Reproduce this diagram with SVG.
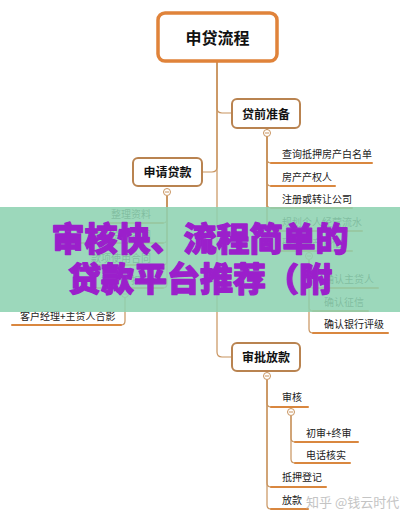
<svg xmlns="http://www.w3.org/2000/svg" width="400" height="521" viewBox="0 0 400 521">
<style>
.conn{fill:none;stroke:#C8935E;stroke-width:1.2}
.ul{stroke:#D9873F;stroke-width:2;stroke-linecap:round}
.box{fill:#fff;stroke:#B98350;stroke-width:2}
.bt{font-family:"Noto Sans CJK SC","Noto Sans",sans-serif;font-weight:700;font-size:12px;fill:#111;text-anchor:middle}
.it{font-family:"Noto Sans CJK SC","Noto Sans",sans-serif;font-size:10px;fill:#222}
.ie{text-anchor:end}
.tog{fill:#fff;stroke:#C8935E;stroke-width:1}
.ban{font-family:"Noto Sans CJK SC",sans-serif;font-weight:900;font-size:33px;fill:#9B1FCB;stroke:#9B1FCB;stroke-width:1.3;stroke-linejoin:round;text-anchor:middle}
</style>
<rect width="400" height="521" fill="#fff"/>
<g id="connectors">
<path class="conn" d="M217,62 V108 Q217,113 222,113 H232"/>
<path class="conn" d="M217,62 V167 Q217,172 212,172 H202"/>
<path class="conn" d="M217,62 V352 Q217,357 222,357 H232"/>
<path class="conn" d="M267,129 V159 Q267,163 271,163"/>
<path class="conn" d="M267,129 V182 Q267,186 271,186"/>
<path class="conn" d="M267,129 V204 Q267,208 271,208"/>
<path class="conn" d="M267,129 V227 Q267,231 271,231"/>
<path class="conn" d="M267,129 V247 Q267,251 271,251"/>
<path class="conn" d="M309,260 V284 Q309,288 313,288"/>
<path class="conn" d="M309,260 V307 Q309,311 313,311"/>
<path class="conn" d="M309,260 V329 Q309,333 313,333"/>
<path class="conn" d="M167,196 V219 Q167,223 163,223"/>
<path class="conn" d="M167,196 V239 Q167,243 163,243"/>
<path class="conn" d="M167,196 V261 Q167,265 163,265"/>
<path class="conn" d="M167,196 V284 Q167,288 163,288"/>
<path class="conn" d="M125,298 V321 Q125,325 121,325"/>
<path class="conn" d="M267,380 V403 Q267,407 271,407"/>
<path class="conn" d="M267,380 V483 Q267,487 271,487"/>
<path class="conn" d="M267,380 V505 Q267,509 271,509"/>
<path class="conn" d="M291,416 V438 Q291,442 295,442"/>
<path class="conn" d="M291,416 V459 Q291,463 295,463"/>
</g>
<g id="root">
<rect x="158" y="13" width="119" height="48" rx="7" fill="#fff" stroke="#E0833A" stroke-width="3.5"/>
<text x="217.5" y="44" font-family="Noto Sans CJK SC,sans-serif" font-weight="700" font-size="16" fill="#111" text-anchor="middle">申贷流程</text>
</g>
<g id="n-daiqian">
<rect class="box" x="232" y="99" width="68" height="29" rx="5"/>
<text class="bt" x="266" y="119">贷前准备</text>
<circle class="tog" cx="267" cy="133" r="3.5"/><line x1="265" y1="133" x2="269" y2="133" stroke="#C8935E"/>
</g>
<g id="n-shenqing">
<rect class="box" x="133" y="158" width="69" height="28" rx="5"/>
<text class="bt" x="167.5" y="177">申请贷款</text>
<circle class="tog" cx="167" cy="192" r="3.5"/><line x1="165" y1="192" x2="169" y2="192" stroke="#C8935E"/>
</g>
<g id="n-shenpi">
<rect class="box" x="232" y="343" width="68" height="28" rx="5"/>
<text class="bt" x="266" y="362">审批放款</text>
<circle class="tog" cx="267" cy="376" r="3.5"/><line x1="265" y1="376" x2="269" y2="376" stroke="#C8935E"/>
</g>
<g id="items-daiqian">
<line class="ul" x1="271" y1="163" x2="372" y2="163"/><text class="it" x="282" y="158">查询抵押房产白名单</text>
<line class="ul" x1="271" y1="186" x2="335" y2="186"/><text class="it" x="282" y="181">房产产权人</text>
<line class="ul" x1="271" y1="208" x2="352" y2="208"/><text class="it" x="282" y="203">注册或转让公司</text>
<line class="ul" x1="271" y1="231" x2="362" y2="231"/><text class="it" x="282" y="226">规划个人经营流水</text>
<line class="ul" x1="271" y1="251" x2="352" y2="251"/><text class="it" x="282" y="247">确认房产评估</text>
<circle class="tog" cx="309" cy="256" r="3.5"/><line x1="307" y1="256" x2="311" y2="256" stroke="#C8935E"/>
<line class="ul" x1="313" y1="288" x2="378" y2="288"/><text class="it" x="324" y="283">确认主贷人</text>
<line class="ul" x1="313" y1="311" x2="368" y2="311"/><text class="it" x="324" y="306">确认征信</text>
<line class="ul" x1="313" y1="333" x2="388" y2="333"/><text class="it" x="324" y="328">确认银行评级</text>
</g>
<g id="items-shenqing">
<line class="ul" x1="107" y1="223" x2="163" y2="223"/><text class="it ie" x="151" y="218">整理资料</text>
<line class="ul" x1="80" y1="243" x2="163" y2="243"/><text class="it ie" x="151" y="239">确认贷款合同</text>
<line class="ul" x1="90" y1="265" x2="163" y2="265"/><text class="it ie" x="151" y="262">款项使用合同</text>
<line class="ul" x1="88" y1="288" x2="163" y2="288"/><text class="it ie" x="141" y="284">抵押折扣</text>
<circle class="tog" cx="125" cy="294" r="3.5"/><line x1="123" y1="294" x2="127" y2="294" stroke="#C8935E"/>
<line class="ul" x1="12" y1="325" x2="121" y2="325"/><text class="it" x="20" y="320">客户经理+主贷人合影</text>
</g>
<g id="items-shenpi">
<line class="ul" x1="271" y1="407" x2="308" y2="407"/><text class="it" x="282" y="401">审核</text>
<circle class="tog" cx="291" cy="412" r="3.5"/><line x1="289" y1="412" x2="293" y2="412" stroke="#C8935E"/>
<line class="ul" x1="295" y1="442" x2="358" y2="442"/><text class="it" x="306" y="437">初审+终审</text>
<line class="ul" x1="295" y1="463" x2="350" y2="463"/><text class="it" x="306" y="459">电话核实</text>
<line class="ul" x1="271" y1="487" x2="326" y2="487"/><text class="it" x="282" y="481">抵押登记</text>
<line class="ul" x1="271" y1="509" x2="308" y2="509"/><text class="it" x="282" y="504">放款</text>
</g>
<g id="banner">
<rect x="0" y="207" width="400" height="105" fill="#8ED3B2" opacity="0.88"/>
<text class="ban" x="200" y="251">审核快、流程简单的</text>
<text class="ban" x="200" y="291">贷款平台推荐（附</text>
</g>
<text x="306" y="507" font-family="Noto Sans CJK SC,sans-serif" font-size="13" fill="#C4C4C4">知乎 @钱云时代</text>
</svg>
